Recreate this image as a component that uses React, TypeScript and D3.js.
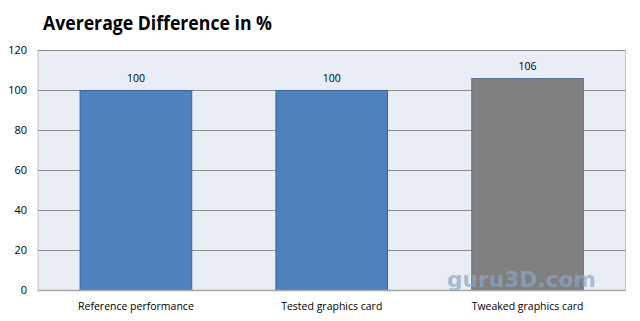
import React from "react";
import * as d3 from "d3";

const categories = ["Reference performance", "Tested graphics card", "Tweaked graphics card"];
const values = [100, 100, 106];
const barColors = ["#4F81BD", "#4F81BD", "#808080"];
const barStrokes = ["#3A6596", "#3A6596", "#5B7391"];
const yTicks = [0, 20, 40, 60, 80, 100, 120];
const title = "Avererage Difference in %";

const W = 640, H = 321;
const margin = { left: 38, right: 14.5, top: 50.5, bottom: 30.5 };

export default function App() {
  const x = d3.scaleBand<string>().domain(categories).range([margin.left, W - margin.right]).paddingInner(0.43).paddingOuter(0.215);
  const y = d3.scaleLinear().domain([0, 120]).range([H - margin.bottom, margin.top]);
  const font = "'Open Sans', 'Noto Sans', sans-serif";
  return (
    <div style={{ position: "fixed", left: 0, top: 0, width: W, height: H, background: "#fff" }}>
      <svg width={W} height={H} style={{ display: "block" }}>
        <rect x={0} y={0} width={W} height={H} fill="#fff" />
        <text x={43} y={30} fontFamily={font} fontWeight="bold" fontSize={19} textLength={229} lengthAdjust="spacingAndGlyphs" fill="#000">{title}</text>
        <rect x={margin.left} y={margin.top} width={W - margin.right - margin.left} height={y(0) - margin.top} fill="#E9EDF5" stroke="#BFC3C9" strokeWidth={1} />
        {yTicks.map(t => (
          <g key={t}>
            {t > 0 && <line x1={margin.left} x2={W - margin.right} y1={y(t)} y2={y(t)} stroke="#8C8C8C" strokeWidth={1} />}
            <text x={27} y={y(t)} dy="0.35em" textAnchor="end" fontFamily={font} fontSize={11} fill="#000">{t}</text>
          </g>
        ))}
        {categories.map((c, i) => (
          <g key={c}>
            <rect x={x(c)!} y={y(values[i])} width={x.bandwidth()} height={y(0) - y(values[i])} fill={barColors[i]} stroke={barStrokes[i]} strokeWidth={1} />
            <text x={x(c)! + x.bandwidth() / 2} y={y(values[i]) - 9} textAnchor="middle" fontFamily={font} fontSize={10.5} fill="#000">{values[i]}</text>
            <text x={x(c)! + x.bandwidth() / 2} y={y(0) + 19} textAnchor="middle" fontFamily={font} fontSize={10.5} fill="#000">{c}</text>
          </g>
        ))}
        <line x1={margin.left} x2={W - margin.right} y1={y(0)} y2={y(0)} stroke="#A6A6A6" strokeWidth={1.5} />
        <text x={447} y={287} fontFamily="'DejaVu Sans', sans-serif" fontWeight="bold" fontSize={22} textLength={149} lengthAdjust="spacingAndGlyphs" fill="#8FA6C4" opacity={0.7}>guru3D.com</text>
      </svg>
    </div>
  );
}
